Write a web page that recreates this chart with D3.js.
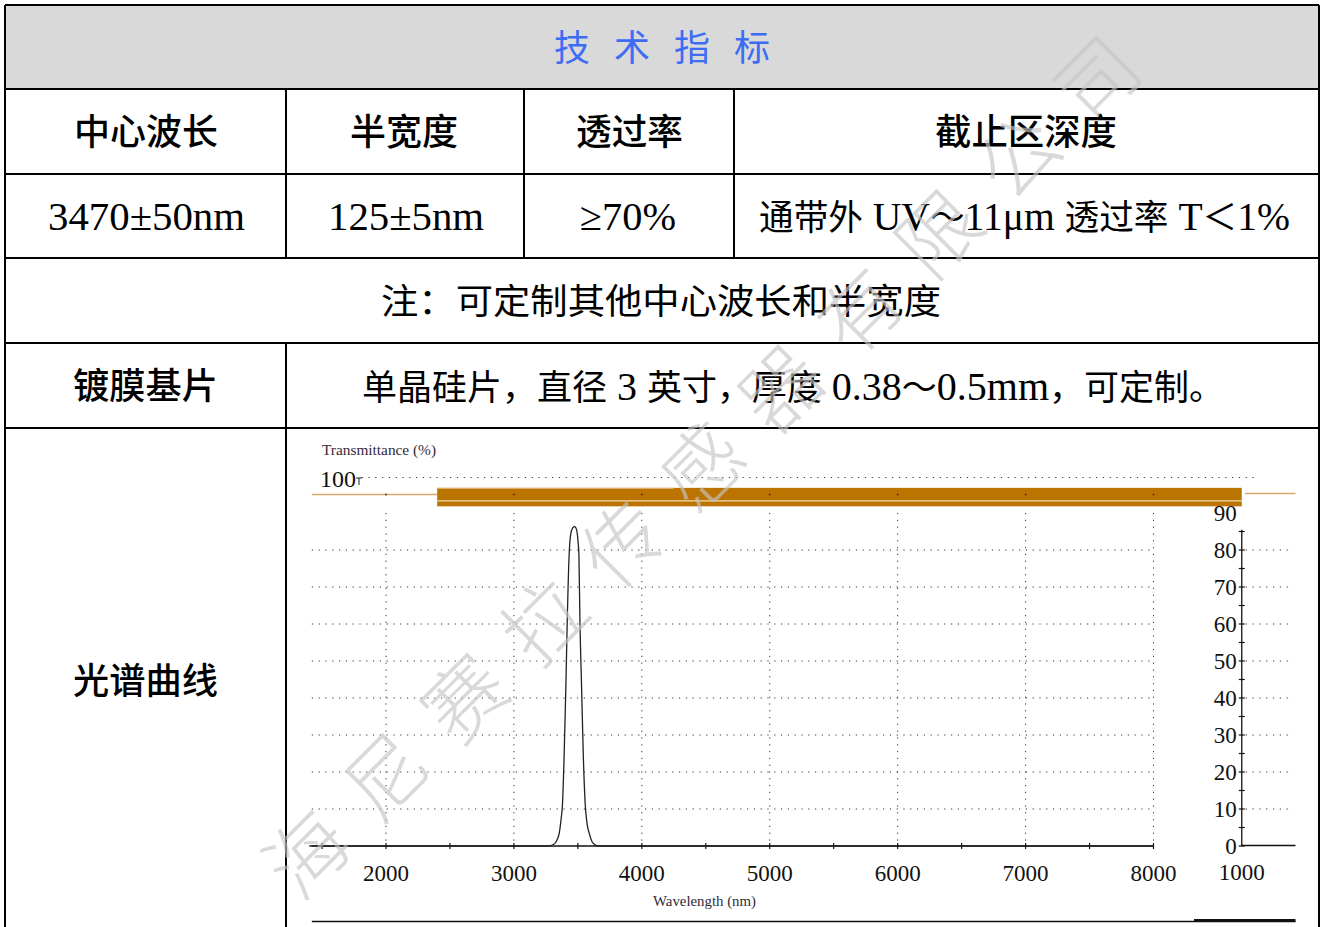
<!DOCTYPE html>
<html>
<head>
<meta charset="utf-8">
<script src="https://cdn.jsdelivr.net/npm/d3@7"></script>
<style>
  html, body { margin: 0; padding: 0; background: #fff; }
  svg { display: block; }
</style>
</head>
<body>
<script>
// ---------------- DATA ----------------
const titleText = "技术指标";
const specHeaders = ["中心波长", "半宽度", "透过率", "截止区深度"];
const specValues = ["3470±50nm", "125±5nm", "≥70%", "通带外 UV～11μm 透过率 T＜1%"];
const noteText = "注：可定制其他中心波长和半宽度";
const substrateLabel = "镀膜基片";
const substrateText = "单晶硅片，直径 3 英寸，厚度 0.38～0.5mm，可定制。";
const spectrumLabel = "光谱曲线";
const yAxisTitle = "Transmittance (%)";
const xAxisTitle = "Wavelength (nm)";
const watermarkText = "海尼赛拉传感器有限公司";

// spectrum (wavelength nm, transmittance %)
const wavelength    = [1400, 3270, 3310, 3335, 3354, 3368, 3380, 3393, 3406, 3417, 3432, 3445, 3460, 3475, 3490, 3502, 3508, 3516, 3529, 3542, 3557, 3572, 3589, 3610, 3635, 3660, 8000];
const transmittance = [0,    0,    0.4,  1.5,  3.4,  7,    11.5, 25,   43,   61,   79,   84.5, 86,   86.3, 85.5, 82,   79,   61,   43,   25,   11.5, 6,    3.4,  1.2,  0.3,  0,    0];

// axes
const xLabelTicks = [2000, 3000, 4000, 5000, 6000, 7000, 8000];
const xMinorTicks = [1500, 2000, 2500, 3000, 3500, 4000, 4500, 5000, 5500, 6000, 6500, 7000, 7500, 8000];
const yGridTicks = [10, 20, 30, 40, 50, 60, 70, 80];
const yLabelTicks = [0, 10, 20, 30, 40, 50, 60, 70, 80, 90];
const yMinorTicks = [0, 5, 10, 15, 20, 25, 30, 35, 40, 45, 50, 55, 60, 65, 70, 75, 80, 85];
const yTopLabel = "100";
const rightAxisWavelength = 8690;
const rightAxisLabel = "1000";

// orange reference band (second trace)
const bandStart = 2400, bandEnd = 8690, bandHigh = 96.8, bandLow = 91.8, bandStripe = 93.3;
const refLineLevel = 95, refLineLeftStart = 1420, refLineRightEnd = 9110;
const topLineStart = 1810, topLineEnd = 8790;

// ---------------- DRAW ----------------
const W = 1321, H = 927;
const svg = d3.select("body").append("svg").attr("width", W).attr("height", H);

const CJK_RE = /[\u3000-\u9fff\uff00-\uffef]/;
function richText(g, str, x, baseline, o) {
  const t = g.append("text").attr("x", x).attr("y", baseline).attr("fill", o.fill || "#000");
  const runs = str.match(/[\u3000-\u9fff\uff00-\uffef]+|[^\u3000-\u9fff\uff00-\uffef]+/g);
  runs.forEach(r => {
    const cjk = CJK_RE.test(r);
    t.append("tspan").text(r)
      .attr("font-family", cjk ? "'Noto Sans CJK SC'" : "'Liberation Serif', 'Times New Roman', serif")
      .attr("font-size", cjk ? o.cjkSize : o.latinSize)
      .attr("font-weight", o.weight || 400);
  });
  if (o.len) t.attr("textLength", o.len).attr("lengthAdjust", "spacingAndGlyphs");
  return t;
}
function sansText(g, str, x, baseline, size, len, fill) {
  return g.append("text").attr("x", x).attr("y", baseline)
    .attr("font-family", "'Noto Sans CJK SC', sans-serif").attr("font-size", size).attr("font-weight", 500)
    .attr("fill", fill || "#000").attr("textLength", len).attr("lengthAdjust", "spacingAndGlyphs")
    .text(str);
}

// ---- table ----
const table = svg.append("g");
table.append("rect").attr("x", 5).attr("y", 5).attr("width", 1314).attr("height", 84).attr("fill", "#d9d9d9");
const rowLines = [5, 89, 174, 258, 343, 428];
rowLines.forEach(yy => table.append("line").attr("x1", 5).attr("x2", 1319).attr("y1", yy).attr("y2", yy)
  .attr("stroke", "#000").attr("stroke-width", 2));
[[5, 5, 927], [1319, 5, 927], [286, 89, 258], [524, 89, 258], [734, 89, 258], [286, 343, 927]].forEach(([xx, y1, y2]) =>
  table.append("line").attr("x1", xx).attr("x2", xx).attr("y1", y1).attr("y2", y2)
    .attr("stroke", "#000").attr("stroke-width", 2));

// title
table.append("text").attr("x", 554).attr("y", 61)
  .attr("font-family", "'Noto Sans CJK SC', sans-serif").attr("font-size", 36)
  .attr("letter-spacing", 24).attr("fill", "#3d6cf5").text(titleText);

// headers row
const headerPos = [[74, 144], [350, 108], [576, 107], [935, 182]];
specHeaders.forEach((s, i) => sansText(table, s, headerPos[i][0], 145, 36, headerPos[i][1]));

// values row
const valuePos = [[48, 197], [328, 156], [580, 96], [759, 531]];
specValues.forEach((s, i) => richText(table, s, valuePos[i][0], 230, { cjkSize: 35, latinSize: 40, len: valuePos[i][1] }));

// note row
richText(table, noteText, 381, 314, { cjkSize: 35, latinSize: 40, len: 560 });

// substrate row
sansText(table, substrateLabel, 73, 399, 36, 145);
richText(table, substrateText, 362, 400, { cjkSize: 35, latinSize: 40, len: 862 });

// spectrum label
sansText(table, spectrumLabel, 73, 694, 36, 145);

// ---- chart ----
const x = d3.scaleLinear().domain([2000, 8000]).range([386, 1153.5]);
const y = d3.scaleLinear().domain([0, 100]).range([846, 476]);
const chart = svg.append("g");
const dotted = "1.2,5.6";

// vertical grid
chart.selectAll(".vg").data(xLabelTicks).join("line")
  .attr("x1", d => x(d)).attr("x2", d => x(d)).attr("y1", y(90)).attr("y2", y(0))
  .attr("stroke", "#333").attr("stroke-width", 1).attr("stroke-dasharray", dotted);
// horizontal grid (main plot)
chart.selectAll(".hg").data(yGridTicks).join("line")
  .attr("x1", x(refLineLeftStart)).attr("x2", x(8000)).attr("y1", d => y(d)).attr("y2", d => y(d))
  .attr("stroke", "#333").attr("stroke-width", 1).attr("stroke-dasharray", dotted);
// horizontal grid (right of right axis)
chart.selectAll(".hg2").data(yGridTicks).join("line")
  .attr("x1", x(rightAxisWavelength) + 4).attr("x2", x(refLineRightEnd) - 2).attr("y1", d => y(d)).attr("y2", d => y(d))
  .attr("stroke", "#333").attr("stroke-width", 1).attr("stroke-dasharray", dotted);
// top dotted line at 100
chart.append("line").attr("x1", x(topLineStart)).attr("x2", x(topLineEnd))
  .attr("y1", y(100) + 1.5).attr("y2", y(100) + 1.5)
  .attr("stroke", "#333").attr("stroke-width", 1).attr("stroke-dasharray", dotted);
// top cap of the left axis
chart.append("line").attr("x1", 356).attr("x2", 362).attr("y1", y(100) + 2).attr("y2", y(100) + 2).attr("stroke", "#222");
chart.append("line").attr("x1", 359).attr("x2", 359).attr("y1", y(100) + 2).attr("y2", y(100) + 9).attr("stroke", "#222");

// orange reference trace
chart.append("line").attr("x1", x(refLineLeftStart)).attr("x2", x(bandStart))
  .attr("y1", y(refLineLevel)).attr("y2", y(refLineLevel)).attr("stroke", "#d6a96c").attr("stroke-width", 1.6);
chart.append("line").attr("x1", x(bandEnd) + 3).attr("x2", x(refLineRightEnd))
  .attr("y1", y(refLineLevel) - 1).attr("y2", y(refLineLevel) - 1).attr("stroke", "#d6a96c").attr("stroke-width", 1.6);
chart.append("rect").attr("x", x(bandStart)).attr("y", y(bandHigh))
  .attr("width", x(bandEnd) - x(bandStart)).attr("height", y(bandLow) - y(bandHigh)).attr("fill", "#bb7400");
chart.append("line").attr("x1", x(bandStart)).attr("x2", x(4250))
  .attr("y1", y(bandHigh) + 0.5).attr("y2", y(bandHigh) + 0.5).attr("stroke", "#e2bd83").attr("stroke-width", 1);
chart.append("line").attr("x1", x(bandStart)).attr("x2", x(bandEnd))
  .attr("y1", y(bandStripe)).attr("y2", y(bandStripe)).attr("stroke", "#f1dcb3").attr("stroke-width", 1.2);
chart.selectAll(".bd").data(xLabelTicks).join("rect")
  .attr("x", d => x(d) - 0.8).attr("y", y(refLineLevel) - 0.8).attr("width", 1.6).attr("height", 1.6).attr("fill", "#3a2a10");

// x axis
chart.append("line").attr("x1", x(refLineLeftStart)).attr("x2", x(8000)).attr("y1", y(0)).attr("y2", y(0))
  .attr("stroke", "#111").attr("stroke-width", 1.3);
chart.selectAll(".xt").data(xMinorTicks).join("line")
  .attr("x1", d => x(d)).attr("x2", d => x(d)).attr("y1", y(0) - 3).attr("y2", y(0) + 3)
  .attr("stroke", "#111").attr("stroke-width", 1.2);
chart.selectAll(".xl").data(xLabelTicks).join("text")
  .attr("x", d => x(d)).attr("y", 881).attr("text-anchor", "middle")
  .attr("font-family", "'Liberation Serif', serif").attr("font-size", 23).attr("fill", "#111")
  .text(d => d);

// right axis
const rx = x(rightAxisWavelength);
chart.append("line").attr("x1", rx).attr("x2", rx).attr("y1", y(85.5)).attr("y2", y(0))
  .attr("stroke", "#111").attr("stroke-width", 1.3);
chart.append("line").attr("x1", rx).attr("x2", x(refLineRightEnd)).attr("y1", y(0) - 0.5).attr("y2", y(0) - 0.5)
  .attr("stroke", "#111").attr("stroke-width", 1.3);
chart.selectAll(".yt").data(yMinorTicks).join("line")
  .attr("x1", rx - 3).attr("x2", rx + 3).attr("y1", d => y(d)).attr("y2", d => y(d))
  .attr("stroke", "#111").attr("stroke-width", 1.2);
chart.selectAll(".yl").data(yLabelTicks).join("text")
  .attr("x", rx - 5).attr("y", d => y(d) + 8).attr("text-anchor", "end")
  .attr("font-family", "'Liberation Serif', serif").attr("font-size", 23).attr("fill", "#111")
  .text(d => d);
chart.append("text").attr("x", rx).attr("y", 880).attr("text-anchor", "middle")
  .attr("font-family", "'Liberation Serif', serif").attr("font-size", 23).attr("fill", "#111")
  .text(rightAxisLabel);

// axis titles
chart.append("text").attr("x", 322).attr("y", 455)
  .attr("font-family", "'Liberation Serif', serif").attr("font-size", 14).attr("fill", "#332a3a")
  .attr("textLength", 114).attr("lengthAdjust", "spacingAndGlyphs").text(yAxisTitle);
chart.append("text").attr("x", 356).attr("y", 487).attr("text-anchor", "end")
  .attr("font-family", "'Liberation Serif', serif").attr("font-size", 24).attr("fill", "#111")
  .text(yTopLabel);
chart.append("text").attr("x", 653).attr("y", 906)
  .attr("font-family", "'Liberation Serif', serif").attr("font-size", 14).attr("fill", "#332a3a")
  .attr("textLength", 103).attr("lengthAdjust", "spacingAndGlyphs").text(xAxisTitle);

// bottom frame line
chart.append("line").attr("x1", x(refLineLeftStart)).attr("x2", x(refLineRightEnd)).attr("y1", 921.5).attr("y2", 921.5)
  .attr("stroke", "#111").attr("stroke-width", 1.3);
chart.append("line").attr("x1", 1194).attr("x2", x(refLineRightEnd)).attr("y1", 920.5).attr("y2", 920.5)
  .attr("stroke", "#111").attr("stroke-width", 3);

// spectrum curve
const pts = wavelength.map((w, i) => [w, transmittance[i]]);
chart.append("path").datum(pts)
  .attr("d", d3.line().x(d => x(d[0])).y(d => y(d[1])).curve(d3.curveMonotoneX))
  .attr("fill", "none").attr("stroke", "#222").attr("stroke-width", 1.3);

// ---- watermark ----
const wm = svg.append("g").attr("opacity", 0.65);
Array.from(watermarkText).forEach((ch, i) => {
  const cx = 303 + 79 * i, cy = 850 - 77.5 * i;
  wm.append("text").attr("x", 0).attr("y", 0)
    .attr("transform", `translate(${cx},${cy}) rotate(-45)`)
    .attr("text-anchor", "middle").attr("dominant-baseline", "central")
    .attr("font-family", "'Noto Sans CJK SC', sans-serif").attr("font-size", 80).attr("font-weight", 300)
    .attr("fill", "#c4c4c4").text(ch);
});
</script>
</body>
</html>
